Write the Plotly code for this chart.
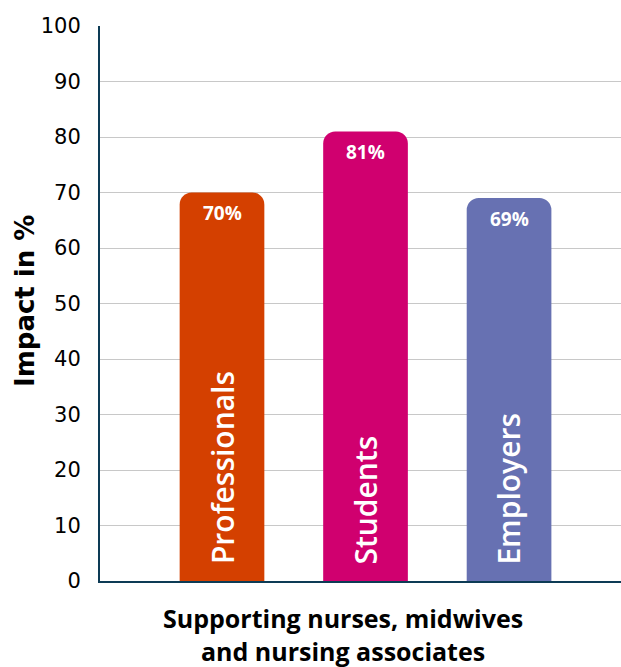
import plotly.graph_objects as go

categories = ["Professionals", "Students", "Employers"]
values = [70, 81, 69]
value_labels = ["70%", "81%", "69%"]
colors = ["#D44000", "#D0006F", "#6771B2"]
y_ticks = [0, 10, 20, 30, 40, 50, 60, 70, 80, 90, 100]

xpos = list(range(len(categories)))

fig = go.Figure()
fig.add_trace(go.Bar(
    x=xpos, y=values, width=0.59,
    marker=dict(color=colors, line=dict(width=0), cornerradius=12),
    hoverinfo="skip", showlegend=False,
))

for x, v, lab, cat in zip(xpos, values, value_labels, categories):
    fig.add_annotation(x=x, y=v - 3.7, text=lab, showarrow=False,
                       xref="x", yref="y",
                       font=dict(family="Open Sans", size=19, color="white", weight=700))
    fig.add_annotation(x=x, y=2.6, text=cat, showarrow=False, textangle=-90,
                       xref="x", yref="y", xanchor="center", yanchor="bottom",
                       font=dict(family="Open Sans", size=30, color="white", weight=600))

fig.add_annotation(x=(343 - 100) / 521, y=-0.033, xref="paper", yref="paper",
                   xanchor="center", yanchor="top", showarrow=False,
                   text="Supporting nurses, midwives<br>and nursing associates",
                   font=dict(family="Open Sans", size=25, color="black", weight=700))

fig.add_annotation(x=(25 - 100) / 521, y=(581 - 301) / 555, xref="paper", yref="paper",
                   xanchor="center", yanchor="middle", showarrow=False, textangle=-90,
                   text="Impact in %",
                   font=dict(family="DejaVu Sans", size=26, color="black", weight=700))

fig.update_layout(
    width=621, height=667,
    margin=dict(l=100, r=0, t=26, b=86),
    plot_bgcolor="white", paper_bgcolor="white",
)
fig.update_xaxes(range=[-0.85, 2.78], showticklabels=False, showgrid=False,
                 zeroline=False, showline=True, linecolor="#0D3B55", linewidth=2,
                 ticks="", automargin=False)
fig.update_yaxes(range=[0, 100], tickvals=y_ticks, showgrid=True,
                 gridcolor="#C8C8C8", gridwidth=1, zeroline=False,
                 showline=True, linecolor="#0D3B55", linewidth=2,
                 tickfont=dict(family="DejaVu Sans", size=21, color="black"),
                 ticks="", ticklabelstandoff=13, automargin=False)

fig.write_html("out.html", config={"displayModeBar": False},
               post_script="document.body.style.margin='0px';")
